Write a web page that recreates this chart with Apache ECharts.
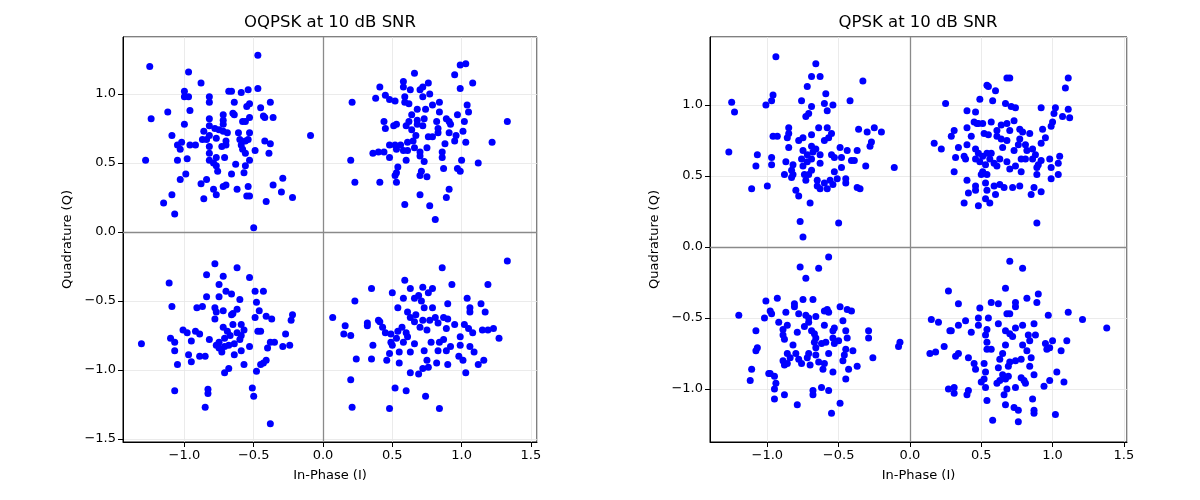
<!DOCTYPE html>
<html>
<head>
<meta charset="utf-8">
<script src="https://cdn.jsdelivr.net/npm/echarts@6/dist/echarts.min.js"></script>
<style>html,body{margin:0;background:#fff}#main{width:1200px;height:500px}</style>
</head>
<body>
<div id="main"></div>
<script>
// 数据：每个象限一组 [I, Q]
const oqpskUpperLeft = [[-1.25,1.20],[-0.47,1.28],[-0.97,1.16],[-0.88,1.08],[-1.24,0.82],[-1.12,0.87],[-1.00,1.02],[-1.00,0.98],[-0.97,0.98],[-0.96,0.88],[-1.00,0.78],[-1.09,0.70],[-1.05,0.63],[-1.02,0.65],[-1.03,0.60],[-0.96,0.63],[-1.28,0.52],[-1.05,0.52],[-0.98,0.53],[-0.99,0.42],[-1.03,0.38],[-1.09,0.27],[-1.15,0.21],[-1.07,0.13],[-0.86,0.24],[-0.88,0.35],[-0.84,0.38],[-0.79,0.31],[-0.77,0.27],[-0.72,0.33],[-0.70,0.34],[-0.62,0.31],[-0.66,0.42],[-0.63,0.49],[-0.57,0.43],[-0.56,0.48],[-0.53,0.52],[-0.54,0.33],[-0.55,0.26],[-0.53,0.26],[-0.50,0.03],[-0.41,0.22],[-0.36,0.34],[-0.30,0.29],[-0.29,0.39],[-0.22,0.25],[-0.09,0.70],[-0.39,0.57],[-0.38,0.64],[-0.42,0.66],[-0.49,0.59],[-0.36,0.83],[-0.38,0.94],[-0.43,0.84],[-0.45,0.90],[-0.47,1.04],[-0.54,1.03],[-0.59,1.01],[-0.66,1.02],[-0.68,1.02],[-0.64,0.94],[-0.53,0.93],[-0.55,0.91],[-0.65,0.86],[-0.64,0.85],[-0.53,0.83],[-0.58,0.80],[-0.56,0.80],[-0.72,0.85],[-0.72,0.81],[-0.82,0.98],[-0.82,0.94],[-0.82,0.82],[-0.86,0.73],[-0.87,0.67],[-0.92,0.63],[-0.82,0.77],[-0.78,0.75],[-0.75,0.74],[-0.72,0.73],[-0.69,0.72],[-0.72,0.78],[-0.82,0.70],[-0.84,0.67],[-0.77,0.68],[-0.70,0.66],[-0.70,0.63],[-0.73,0.62],[-0.82,0.62],[-0.82,0.57],[-0.77,0.54],[-0.82,0.52],[-0.79,0.50],[-0.77,0.48],[-0.76,0.44],[-0.71,0.54],[-0.61,0.72],[-0.60,0.67],[-0.56,0.66],[-0.54,0.67],[-0.53,0.72],[-0.59,0.63],[-0.58,0.60],[-0.56,0.57],[-0.42,0.83]]
const oqpskUpperRight = [[0.21,0.94],[0.20,0.52],[0.23,0.36],[0.41,0.36],[0.66,1.15],[0.58,1.09],[0.58,1.05],[0.63,1.03],[0.41,1.05],[0.38,0.97],[0.45,0.99],[0.48,0.96],[0.52,0.95],[0.59,0.98],[0.59,0.94],[0.62,0.93],[0.70,1.03],[0.72,1.05],[0.76,1.08],[0.77,1.00],[0.72,0.98],[0.95,1.14],[0.99,1.21],[1.03,1.22],[0.99,1.04],[1.08,1.08],[1.33,0.80],[1.04,0.92],[1.05,0.87],[0.97,0.85],[1.02,0.80],[1.01,0.73],[1.03,0.65],[1.22,0.65],[1.12,0.50],[1.00,0.52],[0.97,0.46],[0.99,0.44],[0.87,0.46],[0.86,0.54],[0.86,0.58],[0.88,0.64],[0.95,0.66],[0.96,0.70],[0.91,0.72],[0.91,0.80],[0.89,0.82],[0.84,0.87],[0.84,0.94],[0.79,0.92],[0.74,0.89],[0.68,0.89],[0.64,0.85],[0.62,0.80],[0.68,0.81],[0.73,0.82],[0.82,0.80],[0.83,0.75],[0.79,0.69],[0.76,0.69],[0.72,0.77],[0.68,0.78],[0.64,0.74],[0.60,0.77],[0.53,0.78],[0.44,0.80],[0.45,0.75],[0.51,0.77],[0.67,0.70],[0.65,0.66],[0.61,0.65],[0.56,0.63],[0.52,0.63],[0.48,0.63],[0.53,0.60],[0.58,0.59],[0.61,0.59],[0.66,0.61],[0.70,0.58],[0.75,0.61],[0.70,0.55],[0.73,0.51],[0.60,0.52],[0.48,0.54],[0.40,0.58],[0.36,0.57],[0.44,0.58],[0.54,0.47],[0.53,0.43],[0.52,0.41],[0.53,0.36],[0.71,0.44],[0.70,0.41],[0.75,0.40],[0.91,0.31],[0.89,0.25],[0.70,0.27],[0.59,0.20],[0.77,0.19],[0.81,0.09],[0.83,0.72],[0.92,0.78]]
const oqpskLowerLeft = [[-1.31,-0.81],[-1.11,-0.37],[-1.09,-0.54],[-1.10,-0.77],[-1.07,-0.80],[-1.07,-0.86],[-1.05,-0.96],[-1.07,-1.15],[-0.97,-0.89],[-0.95,-0.94],[-0.95,-0.79],[-1.01,-0.71],[-0.98,-0.73],[-0.92,-0.72],[-0.89,-0.74],[-0.91,-0.55],[-0.87,-0.54],[-0.84,-0.47],[-0.84,-0.31],[-0.78,-0.23],[-0.72,-0.32],[-0.75,-0.38],[-0.70,-0.43],[-0.66,-0.45],[-0.62,-0.26],[-0.53,-0.33],[-0.49,-0.43],[-0.43,-0.43],[-0.60,-0.49],[-0.75,-0.47],[-0.48,-0.51],[-0.62,-0.56],[-0.65,-0.59],[-0.46,-0.57],[-0.49,-0.62],[-0.41,-0.61],[-0.37,-0.63],[-0.22,-0.60],[-0.23,-0.64],[-0.27,-0.74],[-0.24,-0.82],[-0.29,-0.83],[-0.35,-0.80],[-0.38,-0.80],[-0.40,-0.84],[-0.47,-0.72],[-0.45,-0.72],[-0.53,-0.83],[-0.59,-0.86],[-0.57,-0.96],[-0.41,-0.93],[-0.43,-0.95],[-0.45,-0.96],[-0.48,-1.01],[-0.51,-1.13],[-0.50,-1.19],[-0.38,-1.39],[-0.83,-1.14],[-0.83,-1.17],[-0.85,-1.27],[-0.68,-0.99],[-0.71,-1.02],[-0.64,-0.89],[-0.85,-0.90],[-0.89,-0.90],[-0.82,-0.78],[-0.78,-0.55],[-0.77,-0.58],[-0.78,-0.63],[-0.72,-0.57],[-0.72,-0.69],[-0.69,-0.72],[-0.65,-0.67],[-0.59,-0.67],[-0.57,-0.71],[-0.62,-0.73],[-0.67,-0.75],[-0.71,-0.77],[-0.75,-0.80],[-0.75,-0.84],[-0.71,-0.83],[-0.68,-0.82],[-0.64,-0.81],[-0.60,-0.78],[-0.59,-0.75],[-0.73,-0.87],[-0.77,-0.82],[-0.66,-0.60]]
const oqpskLowerRight = [[0.07,-0.62],[0.16,-0.68],[0.15,-0.74],[0.20,-0.75],[0.23,-0.50],[0.35,-0.41],[0.32,-0.66],[0.32,-0.68],[0.40,-0.64],[0.41,-0.65],[0.43,-0.69],[0.45,-0.73],[0.36,-0.82],[0.35,-0.92],[0.24,-0.92],[0.20,-1.07],[0.21,-1.27],[0.48,-1.28],[0.52,-1.13],[0.60,-1.15],[0.74,-1.19],[0.84,-1.28],[1.03,-1.02],[0.63,-1.02],[0.69,-1.03],[0.72,-0.99],[0.76,-0.98],[0.75,-0.93],[0.82,-0.95],[0.90,-0.96],[1.12,-0.96],[1.16,-0.93],[1.01,-0.93],[0.98,-0.90],[1.09,-0.87],[1.06,-0.83],[0.99,-0.82],[0.99,-0.76],[0.92,-0.83],[0.89,-0.86],[0.83,-0.86],[0.84,-0.80],[0.87,-0.78],[0.78,-0.80],[0.73,-0.86],[0.66,-0.81],[0.55,-0.95],[0.46,-0.93],[0.48,-0.88],[0.50,-0.82],[0.53,-0.77],[0.54,-0.72],[0.57,-0.69],[0.60,-0.73],[0.58,-0.80],[0.55,-0.87],[0.61,-0.76],[0.75,-0.71],[0.70,-0.69],[0.66,-0.65],[0.63,-0.62],[0.61,-0.58],[0.67,-0.60],[0.72,-0.64],[0.77,-0.64],[0.83,-0.66],[0.87,-0.62],[0.90,-0.63],[0.81,-0.62],[0.89,-0.70],[0.95,-0.67],[1.02,-0.67],[1.05,-0.70],[1.08,-0.73],[1.15,-0.71],[1.19,-0.71],[1.23,-0.70],[1.27,-0.77],[1.17,-0.58],[1.14,-0.52],[1.06,-0.58],[1.06,-0.55],[1.04,-0.48],[0.90,-0.52],[0.79,-0.55],[0.73,-0.55],[0.71,-0.50],[0.69,-0.46],[0.66,-0.48],[0.63,-0.41],[0.59,-0.35],[0.72,-0.40],[0.79,-0.41],[0.76,-0.44],[0.58,-0.48],[0.54,-0.55],[0.50,-0.44],[0.86,-0.26],[0.93,-0.38],[1.19,-0.38],[1.33,-0.21],[0.49,-0.74],[0.49,-0.80],[0.63,-0.87]]

const qpskUpperLeft = [[-0.94,1.34],[-1.25,1.02],[-1.23,0.95],[-1.27,0.67],[-1.07,0.65],[-1.08,0.57],[-1.11,0.41],[-1.00,0.43],[-1.01,1.00],[-0.97,1.03],[-0.96,1.07],[-0.97,0.63],[-0.97,0.58],[-0.96,0.78],[-0.93,0.78],[-0.86,0.77],[-0.85,0.84],[-0.85,0.80],[-0.85,0.70],[-0.87,0.60],[-0.82,0.58],[-0.83,0.54],[-0.88,0.51],[-0.83,0.49],[-0.80,0.40],[-0.78,0.36],[-0.70,0.31],[-0.77,0.18],[-0.75,0.07],[-0.50,0.17],[-0.66,1.29],[-0.69,1.20],[-0.63,1.20],[-0.72,1.13],[-0.76,1.03],[-0.69,0.99],[-0.71,0.94],[-0.73,0.92],[-0.59,1.08],[-0.60,1.01],[-0.54,1.00],[-0.58,0.96],[-0.33,1.17],[-0.42,1.03],[-0.36,0.83],[-0.30,0.81],[-0.25,0.84],[-0.20,0.81],[-0.27,0.74],[-0.28,0.71],[-0.37,0.68],[-0.44,0.68],[-0.49,0.70],[-0.55,0.65],[-0.53,0.63],[-0.48,0.63],[-0.41,0.61],[-0.39,0.61],[-0.31,0.57],[-0.11,0.56],[-0.48,0.56],[-0.53,0.53],[-0.51,0.48],[-0.45,0.48],[-0.45,0.45],[-0.37,0.42],[-0.35,0.41],[-0.54,0.44],[-0.56,0.47],[-0.58,0.41],[-0.63,0.41],[-0.65,0.43],[-0.65,0.47],[-0.60,0.45],[-0.64,0.84],[-0.58,0.84],[-0.55,0.80],[-0.57,0.77],[-0.60,0.75],[-0.69,0.79],[-0.75,0.77],[-0.78,0.75],[-0.69,0.71],[-0.66,0.69],[-0.63,0.65],[-0.68,0.67],[-0.72,0.65],[-0.75,0.68],[-0.76,0.62],[-0.72,0.60],[-0.69,0.62],[-0.63,0.59],[-0.75,0.57],[-0.69,0.54],[-0.74,0.51],[-0.73,0.47],[-0.82,0.51],[-0.71,0.51]]
const qpskUpperRight = [[0.68,1.19],[0.70,1.19],[1.11,1.19],[1.09,1.12],[0.54,1.14],[0.55,1.13],[0.60,1.10],[0.49,1.04],[0.58,1.03],[0.25,1.01],[0.67,1.01],[0.71,0.99],[0.74,0.98],[0.92,0.98],[1.02,0.98],[1.01,0.94],[1.00,0.88],[0.99,0.85],[1.11,0.97],[1.12,0.91],[1.07,0.92],[0.40,0.96],[0.46,0.95],[0.45,0.88],[0.47,0.87],[0.51,0.87],[0.57,0.88],[0.40,0.84],[0.31,0.82],[0.29,0.78],[0.17,0.73],[0.22,0.69],[0.34,0.70],[0.32,0.63],[0.38,0.64],[0.39,0.62],[0.40,0.72],[0.43,0.78],[0.52,0.80],[0.55,0.79],[0.61,0.82],[0.64,0.86],[0.68,0.87],[0.73,0.89],[0.70,0.82],[0.61,0.78],[0.64,0.76],[0.68,0.75],[0.65,0.70],[0.77,0.83],[0.79,0.81],[0.84,0.80],[0.77,0.76],[0.76,0.72],[0.73,0.68],[0.81,0.72],[0.82,0.68],[0.86,0.69],[0.88,0.65],[0.86,0.62],[0.81,0.62],[0.78,0.62],[0.92,0.73],[0.95,0.77],[0.93,0.83],[0.92,0.61],[0.89,0.56],[0.90,0.58],[0.98,0.62],[0.99,0.56],[1.04,0.59],[1.05,0.64],[1.04,0.51],[0.89,0.51],[0.99,0.48],[0.46,0.69],[0.48,0.66],[0.51,0.64],[0.54,0.66],[0.57,0.66],[0.56,0.62],[0.59,0.59],[0.61,0.57],[0.53,0.58],[0.49,0.60],[0.46,0.62],[0.51,0.53],[0.54,0.51],[0.50,0.51],[0.68,0.60],[0.70,0.55],[0.74,0.57],[0.78,0.53],[0.31,0.53],[0.40,0.47],[0.46,0.43],[0.46,0.40],[0.41,0.38],[0.38,0.31],[0.48,0.29],[0.53,0.45],[0.54,0.40],[0.53,0.34],[0.56,0.31],[0.60,0.37],[0.59,0.43],[0.63,0.44],[0.66,0.42],[0.72,0.42],[0.77,0.43],[0.87,0.42],[0.85,0.37],[0.92,0.39],[0.89,0.17],[0.63,0.62],[0.48,0.87]]
const qpskLowerLeft = [[-0.57,-0.07],[-0.77,-0.14],[-0.64,-0.15],[-0.73,-0.22],[-1.01,-0.38],[-0.93,-0.36],[-0.81,-0.40],[-0.81,-0.42],[-0.75,-0.37],[-0.68,-0.37],[-0.98,-0.45],[-0.97,-0.47],[-1.02,-0.50],[-1.20,-0.48],[-0.87,-0.46],[-0.78,-0.47],[-0.73,-0.48],[-0.66,-0.49],[-0.60,-0.45],[-0.58,-0.44],[-0.57,-0.46],[-0.49,-0.42],[-0.44,-0.44],[-0.41,-0.45],[-0.47,-0.52],[-0.45,-0.59],[-0.44,-0.64],[-0.29,-0.59],[-0.29,-0.64],[-0.07,-0.67],[-0.08,-0.70],[-0.26,-0.78],[-0.37,-0.84],[-0.43,-0.86],[-0.45,-0.93],[-0.40,-0.73],[-0.45,-0.72],[-0.47,-0.80],[-0.46,-0.76],[-0.54,-0.88],[-0.57,-1.01],[-0.62,-0.99],[-0.68,-1.01],[-0.68,-1.04],[-0.49,-1.10],[-0.55,-1.17],[-0.79,-1.11],[-0.88,-1.04],[-0.95,-1.07],[-0.95,-1.00],[-0.94,-0.96],[-0.95,-0.91],[-0.98,-0.89],[-0.99,-0.89],[-1.12,-0.94],[-1.11,-0.86],[-1.08,-0.73],[-1.07,-0.71],[-1.08,-0.59],[-0.92,-0.53],[-0.86,-0.55],[-0.89,-0.58],[-0.88,-0.65],[-0.89,-0.62],[-0.79,-0.60],[-0.82,-0.69],[-0.86,-0.75],[-0.89,-0.80],[-0.88,-0.83],[-0.84,-0.78],[-0.80,-0.75],[-0.78,-0.79],[-0.76,-0.82],[-0.70,-0.83],[-0.72,-0.78],[-0.71,-0.75],[-0.66,-0.71],[-0.66,-0.76],[-0.64,-0.81],[-0.61,-0.86],[-0.60,-0.82],[-0.57,-0.75],[-0.53,-0.68],[-0.50,-0.66],[-0.54,-0.64],[-0.59,-0.67],[-0.62,-0.68],[-0.67,-0.67],[-0.66,-0.64],[-0.60,-0.55],[-0.54,-0.59],[-0.53,-0.57],[-0.71,-0.53],[-0.74,-0.56],[-0.69,-0.59],[-0.67,-0.61],[-0.71,-0.50],[-0.86,-0.82]]
const qpskLowerRight = [[0.70,-0.10],[0.79,-0.15],[0.27,-0.31],[0.67,-0.29],[0.34,-0.40],[0.49,-0.43],[0.57,-0.39],[0.62,-0.40],[0.74,-0.39],[0.74,-0.42],[0.82,-0.36],[0.90,-0.33],[0.89,-0.39],[0.97,-0.48],[1.11,-0.46],[1.21,-0.51],[1.38,-0.57],[0.15,-0.51],[0.20,-0.53],[0.28,-0.59],[0.34,-0.55],[0.39,-0.52],[0.48,-0.50],[0.55,-0.50],[0.68,-0.47],[0.70,-0.47],[0.62,-0.54],[0.74,-0.57],[0.79,-0.55],[0.87,-0.54],[0.43,-0.60],[0.48,-0.55],[0.54,-0.58],[0.53,-0.62],[0.67,-0.59],[0.70,-0.61],[0.72,-0.63],[0.83,-0.62],[0.88,-0.62],[0.84,-0.66],[0.95,-0.68],[1.00,-0.66],[1.10,-0.66],[0.96,-0.72],[0.98,-0.71],[1.06,-0.73],[0.24,-0.70],[0.14,-0.75],[0.18,-0.74],[0.32,-0.77],[0.34,-0.75],[0.41,-0.78],[0.54,-0.67],[0.54,-0.72],[0.57,-0.72],[0.67,-0.69],[0.65,-0.75],[0.63,-0.79],[0.79,-0.69],[0.82,-0.73],[0.85,-0.78],[0.78,-0.79],[0.74,-0.80],[0.70,-0.81],[0.69,-0.84],[0.84,-0.84],[0.45,-0.82],[0.52,-0.82],[0.46,-0.86],[0.53,-0.88],[0.62,-0.85],[0.65,-0.90],[0.69,-0.91],[0.63,-0.94],[0.67,-0.93],[0.52,-0.93],[0.50,-0.95],[0.53,-0.99],[0.61,-0.96],[0.78,-0.92],[0.80,-0.94],[0.81,-0.96],[0.87,-0.90],[0.74,-0.99],[0.68,-1.00],[0.66,-1.04],[0.54,-1.08],[0.67,-1.11],[0.73,-1.13],[0.76,-1.15],[0.87,-1.15],[0.87,-1.17],[0.86,-1.07],[0.94,-0.98],[0.98,-0.94],[1.03,-0.88],[1.08,-0.95],[1.02,-1.18],[0.58,-1.22],[0.76,-1.23],[0.27,-1.00],[0.31,-0.99],[0.31,-1.03],[0.40,-1.04],[0.41,-1.01],[0.29,-0.59]]

const titles = ['OQPSK at 10 dB SNR', 'QPSK at 10 dB SNR']
const xName = 'In-Phase (I)'
const yName = 'Quadrature (Q)'

const font = 'DejaVu Sans, Liberation Sans, sans-serif'

// 刻度标签：只显示 0.5 的倍数，负号用 −
function tickFmt (v) {
  if (Math.abs(v * 2 - Math.round(v * 2)) > 1e-6) return ''
  return (v < 0 ? '\u2212' : '') + Math.abs(v).toFixed(1)
}

function axis (gridIndex, min, max, name, isY) {
  return {
    type: 'value',
    gridIndex: gridIndex,
    min: min,
    max: max,
    splitNumber: 5,
    name: name,
    nameLocation: 'middle',
    nameGap: isY ? 49 : 27,
    nameTextStyle: { color: '#000', fontSize: 13, fontFamily: font },
    axisLine: { show: true, onZero: false, lineStyle: { color: '#000', width: 1 } },
    axisTick: { show: true, length: 5, lineStyle: { color: '#000', width: 1 } },
    axisLabel: { color: '#000', fontSize: 13, fontFamily: font, margin: 7, formatter: tickFmt, showMinLabel: false, showMaxLabel: false },
    splitLine: { show: true, lineStyle: { color: '#e6e6e6', width: 0.8 } }
  }
}

function scatter (idx, data) {
  return {
    type: 'scatter',
    xAxisIndex: idx,
    yAxisIndex: idx,
    data: data,
    symbolSize: 7,
    itemStyle: { color: '#0000ff', opacity: 1 },
    markLine: {
      silent: true,
      symbol: 'none',
      label: { show: false },
      lineStyle: { color: '#8a8a8a', width: 1.3, type: 'solid' },
      data: [{ xAxis: 0 }, { yAxis: 0 }]
    }
  }
}

const myChart = echarts.init(document.getElementById('main'))
const option = {
  backgroundColor: '#fff',
  animation: false,
  grid: [
    { left: 123, right: 663, top: 37, bottom: 58, show: true, borderColor: '#000', borderWidth: 1, backgroundColor: 'transparent' },
    { left: 710, right: 73, top: 37, bottom: 58, show: true, borderColor: '#000', borderWidth: 1, backgroundColor: 'transparent' }
  ],
  xAxis: [
    axis(0, -1.443, 1.544, xName, false),
    axis(1, -1.402, 1.522, xName, false)
  ],
  yAxis: [
    axis(0, -1.522, 1.413, yName, true),
    axis(1, -1.373, 1.479, yName, true)
  ],
  graphic: [
    { type: 'text', x: 330, y: 23, style: { text: titles[0], fill: '#000', font: '16.5px ' + font, textAlign: 'center', textVerticalAlign: 'middle', align: 'center', verticalAlign: 'middle' } },
    { type: 'text', x: 918, y: 23, style: { text: titles[1], fill: '#000', font: '16.5px ' + font, textAlign: 'center', textVerticalAlign: 'middle', align: 'center', verticalAlign: 'middle' } }
  ],
  series: [
    scatter(0, oqpskUpperLeft.concat(oqpskUpperRight, oqpskLowerLeft, oqpskLowerRight)),
    scatter(1, qpskUpperLeft.concat(qpskUpperRight, qpskLowerLeft, qpskLowerRight))
  ]
}
myChart.setOption(option)
</script>
</body>
</html>
